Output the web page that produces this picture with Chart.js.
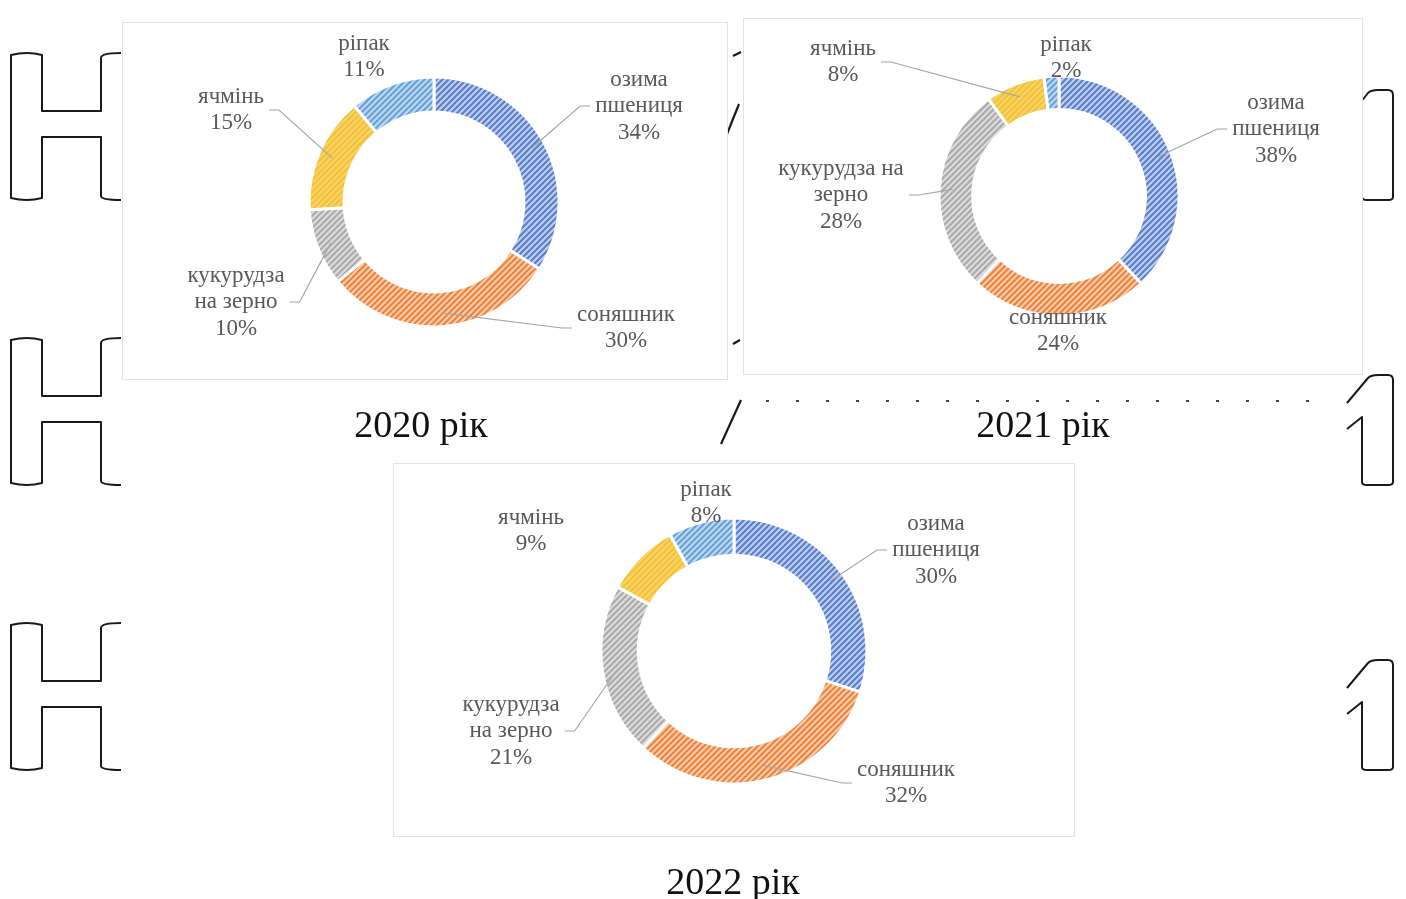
<!DOCTYPE html>
<html>
<head>
<meta charset="utf-8">
<title>Структура посівних площ</title>
<script src="https://cdn.jsdelivr.net/npm/chart.js@4.4.1/dist/chart.umd.min.js"></script>
<style>
  html, body { margin: 0; padding: 0; background: #fff; }
  body { width: 1406px; height: 899px; position: relative; overflow: hidden;
         font-family: "Liberation Serif", "Times New Roman", serif; }
  #marks { position: absolute; left: 0; top: 0; }
  .box { position: absolute; background: #fff; border: 1px solid #e3e3e3; box-sizing: border-box; }
  .box canvas { position: absolute; left: -1px; top: -1px; }
  .title { position: absolute; font-size: 38px; line-height: 38px; color: #111;
           transform: translateX(-50%); white-space: nowrap; }
</style>
</head>
<body>
<canvas id="marks" width="1406" height="899"></canvas>

<div class="box" style="left:122px; top:22px; width:606px; height:358px;"><canvas id="c2020" width="606" height="358"></canvas></div>
<div class="box" style="left:743px; top:18px; width:620px; height:357px;"><canvas id="c2021" width="620" height="357"></canvas></div>
<div class="box" style="left:393px; top:463px; width:682px; height:374px;"><canvas id="c2022" width="682" height="374"></canvas></div>

<div class="title" id="t2020" style="left:421px; top:405px;"></div>
<div class="title" id="t2021" style="left:1043px; top:405px;"></div>
<div class="title" id="t2022" style="left:733px; top:862px;"></div>

<script>
// Crops, in the order the slices run clockwise from 12 o'clock
const categories = ['озима пшениця', 'соняшник', 'кукурудза на зерно', 'ячмінь', 'ріпак'];

// Share of sown area, %
const share2020 = [34, 30, 10, 15, 11];
const share2021 = [38, 24, 28, 8, 2];
const share2022 = [30, 32, 21, 9, 8];

const yearTitles = ['2020 рік', '2021 рік', '2022 рік'];

// Diagonal-hatched fills: [line colour, background colour]
const hatchColours = [
  ['#5a80cc', '#c0d0ee'],
  ['#ee8440', '#f9cdae'],
  ['#ababab', '#dcdcdc'],
  ['#f3c23a', '#f7d466'],
  ['#65a2d9', '#c0d9f0']
];

function hatch(line, bg) {
  const s = 6;
  const c = document.createElement('canvas');
  c.width = c.height = s;
  const g = c.getContext('2d');
  g.fillStyle = bg;
  g.fillRect(0, 0, s, s);
  g.strokeStyle = line;
  g.lineWidth = 2.2;
  g.beginPath();
  g.moveTo(-1, s + 1); g.lineTo(s + 1, -1);
  g.moveTo(-1, 1); g.lineTo(1, -1);
  g.moveTo(s - 1, s + 1); g.lineTo(s + 1, s - 1);
  g.stroke();
  return g.createPattern(c, 'repeat');
}

function wrapWords(ctx, text, maxWidth) {
  const words = text.split(' ');
  const out = [];
  let cur = '';
  words.forEach(w => {
    const test = cur ? cur + ' ' + w : w;
    if (cur && ctx.measureText(test).width > maxWidth) { out.push(cur); cur = w; }
    else cur = test;
  });
  if (cur) out.push(cur);
  return out;
}

// Category + percent labels, with leader lines back to the slice where asked
const sliceLabels = {
  id: 'sliceLabels',
  afterDatasetsDraw(chart, args, opts) {
    const ctx = chart.ctx;
    const meta = chart.getDatasetMeta(0);
    const values = chart.data.datasets[0].data;
    ctx.save();
    ctx.font = opts.font;
    ctx.textAlign = 'center';
    ctx.textBaseline = 'middle';
    meta.data.forEach((arc, i) => {
      const p = arc.getProps(['x', 'y', 'startAngle', 'endAngle', 'innerRadius', 'outerRadius'], true);
      const lines = wrapWords(ctx, chart.data.labels[i], opts.wrap).concat(values[i] + '%');
      const lx = p.x + opts.offsets[i][0];
      const ly = p.y + opts.offsets[i][1];
      if (opts.leaders[i]) {
        const mid = (p.startAngle + p.endAngle) / 2;
        const rr = p.innerRadius + (p.outerRadius - p.innerRadius) * 0.6;
        const tx = p.x + Math.cos(mid) * rr;
        const ty = p.y + Math.sin(mid) * rr;
        const half = Math.max(...lines.map(t => ctx.measureText(t).width)) / 2 + 5;
        const side = tx > lx ? 1 : -1;
        const sx = lx + side * half;
        ctx.strokeStyle = '#a6a6a6';
        ctx.lineWidth = 1.2;
        ctx.beginPath();
        ctx.moveTo(sx, ly);
        ctx.lineTo(sx + side * 10, ly);
        ctx.lineTo(tx, ty);
        ctx.stroke();
      }
      ctx.fillStyle = opts.color;
      lines.forEach((t, k) => {
        ctx.fillText(t, lx, ly + (k - (lines.length - 1) / 2) * opts.lineHeight);
      });
    });
    ctx.restore();
  }
};

// Panel layout: canvas size, ring centre and radius, label placement
const panels = [
  { id: 'c2020', title: 't2020', name: yearTitles[0], values: share2020, w: 606, h: 358, cx: 312, cy: 180, r: 125, wrap: 115,
    offsets: [[205, -96], [192, 126], [-198, 100], [-203, -92], [-70, -145]],
    leaders: [true, true, true, true, false] },
  { id: 'c2021', title: 't2021', name: yearTitles[1], values: share2021, w: 620, h: 357, cx: 316, cy: 178, r: 120, wrap: 140,
    offsets: [[217, -67], [-1, 135], [-218, -1], [-216, -134], [7, -138]],
    leaders: [true, false, true, true, false] },
  { id: 'c2022', title: 't2022', name: yearTitles[2], values: share2022, w: 682, h: 374, cx: 341, cy: 188, r: 133, wrap: 115,
    offsets: [[202, -101], [172, 132], [-223, 80], [-203, -120], [-28, -148]],
    leaders: [true, true, true, false, false] }
];

const bw = 3;
panels.forEach(pn => {
  document.getElementById(pn.title).textContent = pn.name;
  const half = pn.r + bw / 2;
  new Chart(document.getElementById(pn.id), {
    type: 'doughnut',
    data: {
      labels: categories,
      datasets: [{
        data: pn.values,
        backgroundColor: hatchColours.map(c => hatch(c[0], c[1])),
        borderColor: '#ffffff',
        borderWidth: bw,
        hoverBorderWidth: bw,
        hoverOffset: 0
      }]
    },
    options: {
      responsive: false,
      animation: false,
      events: [],
      cutout: '72%',
      layout: { padding: {
        left: pn.cx - half, right: pn.w - pn.cx - half,
        top: pn.cy - half, bottom: pn.h - pn.cy - half } },
      plugins: {
        legend: { display: false },
        tooltip: { enabled: false },
        sliceLabels: {
          font: '23px "Liberation Serif", "Times New Roman", serif',
          color: '#595959',
          lineHeight: 26.5,
          wrap: pn.wrap,
          offsets: pn.offsets,
          leaders: pn.leaders
        }
      }
    },
    plugins: [sliceLabels]
  });
});

// Stray outline strokes along the page margins
(function drawMarks() {
  const g = document.getElementById('marks').getContext('2d');
  g.strokeStyle = '#1a1a1a';
  g.lineWidth = 2;
  g.lineJoin = 'round';
  [53, 338, 623].forEach(T => {
    const B = T + 147, b1 = T + 58, b2 = T + 84;
    g.beginPath();
    g.moveTo(121, T);
    g.quadraticCurveTo(101, T, 101, T + 5);
    g.lineTo(101, b1);
    g.lineTo(42, b1);
    g.lineTo(42, T + 2);
    g.quadraticCurveTo(27, T - 2, 11, T + 2);
    g.lineTo(11, B - 2);
    g.quadraticCurveTo(27, B + 2, 42, B - 2);
    g.lineTo(42, b2);
    g.lineTo(101, b2);
    g.lineTo(101, B - 4);
    g.quadraticCurveTo(101, B, 121, B);
    g.stroke();
  });
  [90, 375, 660].forEach((T, k) => {
    const B = T + 110;
    g.beginPath();
    g.moveTo(k ? 1347 : 1356, k ? T + 28 : T + 18);
    g.lineTo(1368, T + 3);
    g.quadraticCurveTo(1371, T, 1378, T);
    g.lineTo(1388, T);
    g.quadraticCurveTo(1393, T, 1393, T + 5);
    g.lineTo(1393, B - 3);
    g.quadraticCurveTo(1393, B, 1388, B);
    g.lineTo(1367, B);
    g.quadraticCurveTo(1362, B, 1362, B - 3);
    g.lineTo(1362, T + 42);
    g.lineTo(k ? 1347 : 1358, k ? T + 54 : T + 46);
    g.stroke();
  });
  g.lineWidth = 2.2;
  [[733, 56, 741, 52], [727, 134, 739, 104], [733, 344, 740, 340], [721, 444, 741, 400]].forEach(s => {
    g.beginPath(); g.moveTo(s[0], s[1]); g.lineTo(s[2], s[3]); g.stroke();
  });
  g.strokeStyle = '#444';
  g.lineWidth = 2;
  g.setLineDash([3, 27]);
  g.beginPath(); g.moveTo(766, 401); g.lineTo(1330, 401); g.stroke();
})();
</script>
</body>
</html>
